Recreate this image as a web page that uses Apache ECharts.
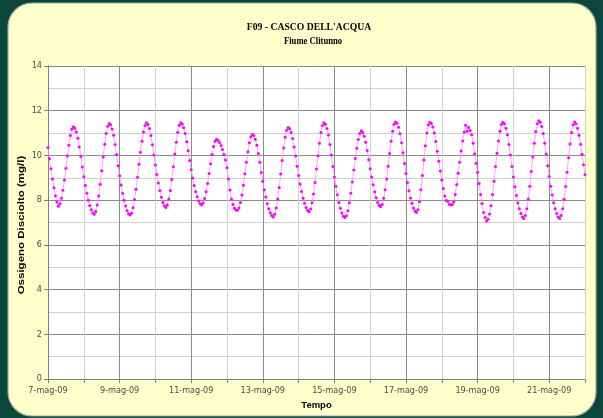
<!DOCTYPE html>
<html><head><meta charset="utf-8">
<script src="https://cdn.jsdelivr.net/npm/echarts@6/dist/echarts.min.js"></script>
<style>html,body{margin:0;padding:0;background:#0a4639;}#c{width:603px;height:418px;}</style>
</head><body><div id="c"></div>
<script>
const titolo = "F09 - CASCO DELL'ACQUA";
const sottotitolo = "Fiume Clitunno";
const nomeAsseY = "Ossigeno Disciolto (mg/l)";
const nomeAsseX = "Tempo";
// one label per day, starting 7-mag-09 00:00 (x = hours since start)
const giorni = ['7-mag-09','8-mag-09','9-mag-09','10-mag-09','11-mag-09','12-mag-09','13-mag-09','14-mag-09',
  '15-mag-09','16-mag-09','17-mag-09','18-mag-09','19-mag-09','20-mag-09','21-mag-09','22-mag-09'];
const yTicks = [0,2,4,6,8,10,12,14];
// hourly dissolved oxygen (mg/l)
const ossigeno = [
 10.35,9.85,9.40,8.95,8.55,8.20,7.92,7.73,
 7.84,8.09,8.44,8.90,9.43,9.97,10.46,10.89,11.17,11.28,
 11.22,11.05,10.77,10.38,9.95,9.48,9.05,8.66,8.31,8.00,7.76,7.57,7.43,7.37,
 7.49,7.78,8.18,8.71,9.32,9.93,10.50,10.98,11.31,11.43,
 11.37,11.18,10.90,10.49,10.04,9.54,9.09,8.68,8.31,7.99,7.74,7.54,7.39,7.33,
 7.41,7.66,8.03,8.49,9.02,9.60,10.14,10.63,11.05,11.34,11.46,
 11.38,11.20,10.89,10.48,10.02,9.57,9.15,8.77,8.43,8.13,7.90,7.75,7.67,
 7.78,8.05,8.43,8.92,9.49,10.06,10.59,11.04,11.35,11.46,
 11.41,11.24,10.98,10.61,10.21,9.77,9.36,8.99,8.66,8.37,8.15,7.96,7.84,7.78,
 7.87,8.07,8.37,8.75,9.19,9.63,10.04,10.40,10.63,10.72,
 10.68,10.58,10.44,10.26,10.05,9.80,9.45,8.95,8.45,8.05,7.80,7.64,7.56,7.55,
 7.65,7.89,8.23,8.67,9.18,9.69,10.16,10.57,10.84,10.94,
 10.89,10.72,10.46,10.09,9.69,9.24,8.84,8.47,8.14,7.84,7.62,7.44,7.31,7.25,
 7.37,7.65,8.05,8.57,9.17,9.77,10.33,10.81,11.13,11.25,
 11.19,11.02,10.76,10.38,9.97,9.52,9.10,8.72,8.39,8.08,7.86,7.67,7.54,7.48,
 7.60,7.88,8.28,8.79,9.39,9.99,10.55,11.02,11.34,11.46,
 11.40,11.21,10.91,10.49,10.02,9.51,9.04,8.62,8.24,7.90,7.64,7.43,7.28,7.22,
 7.30,7.53,7.88,8.31,8.81,9.35,9.86,10.32,10.71,10.98,11.10,
 11.03,10.86,10.59,10.22,9.81,9.40,9.03,8.69,8.38,8.11,7.90,7.77,7.70,
 7.81,8.08,8.46,8.95,9.52,10.09,10.63,11.08,11.39,11.50,
 11.44,11.26,10.97,10.57,10.12,9.64,9.19,8.79,8.42,8.10,7.86,7.65,7.51,7.45,
 7.57,7.93,8.46,9.10,9.79,10.43,11.00,11.36,11.48,
 11.43,11.27,11.00,10.62,10.19,9.74,9.30,8.90,8.52,8.18,7.98,7.95,7.82,7.78,7.80,7.92,
 8.25,8.70,9.20,9.70,10.20,10.65,11.05,11.35,11.08,11.25,11.12,10.92,
 10.55,10.08,9.65,9.25,8.75,8.25,7.85,7.45,7.22,7.07,7.15,7.38,7.75,8.25,8.85,9.50,10.10,10.65,11.08,11.38,11.48,
 11.42,11.22,10.92,10.49,10.02,9.50,9.03,8.60,8.21,7.87,7.61,7.40,7.25,7.18,
 7.31,7.62,8.05,8.62,9.28,9.93,10.55,11.07,11.42,11.55,
 11.48,11.29,10.98,10.55,10.06,9.54,9.06,8.62,8.23,7.88,7.62,7.40,7.25,7.18,
 7.31,7.61,8.04,8.61,9.25,9.90,10.51,11.03,11.37,11.50,
 11.42,11.22,10.90,10.50,10.05,9.58,9.15,8.72
];

const chart = echarts.init(document.getElementById('c'), null, {renderer:'canvas'});
const narrow = '"Liberation Sans Narrow","Arial Narrow","DejaVu Sans Condensed","Liberation Sans",sans-serif';
const gridDark = '#8a8a8a', gridLight = '#d0d0d0';
chart.setOption({
  animation: false,
  backgroundColor: '#0a4639',
  graphic: [
    {type:'rect', z:-10, shape:{x:8, y:3, width:588, height:413, r:24},
     style:{fill:'#ffffcc', stroke:'#9ea89e', lineWidth:1.2}},
    {type:'text', x:309, y:27.5, scaleX:0.88,
     style:{text:titolo, fontFamily:'"Liberation Serif",serif', fontWeight:'bold', fontSize:11, fill:'#000', align:'center', verticalAlign:'middle'}},
    {type:'text', x:313, y:41.5, scaleX:0.82,
     style:{text:sottotitolo, fontFamily:'"Liberation Serif",serif', fontWeight:'bold', fontSize:10.5, fill:'#000', align:'center', verticalAlign:'middle'}},
    {type:'text', x:22, y:225, rotation:Math.PI/2, scaleY:0.75,
     style:{text:nomeAsseY, fontFamily:'"Liberation Sans",sans-serif', fontWeight:'bold', fontSize:11.5, fill:'#000', align:'center', verticalAlign:'middle'}}
  ],
  grid: {left:48, top:66, width:537, height:313, show:true, backgroundColor:'#ffffff', borderWidth:0, containLabel:false, outerBoundsMode:'none'},
  xAxis: {
    type:'value', min:0, max:360, interval:24,
    axisLine:{show:true, onZero:false, lineStyle:{color:'#808080', width:1}},
    axisTick:{show:true, length:4, lineStyle:{color:'#808080'}},
    axisLabel:{margin:7, fontSize:9, color:'#4a4a4a', fontFamily:narrow,
      formatter: v => (v % 48 === 0 && v < 360) ? giorni[v/24] : ''},
    splitLine:{show:true, lineStyle:{color:[gridDark, gridLight], width:1}},
    name:nomeAsseX, nameLocation:'middle', nameGap:21,
    nameTextStyle:{fontWeight:'bold', fontSize:9.5, color:'#000', fontFamily:'"Liberation Sans",sans-serif'}
  },
  yAxis: [
    {type:'value', min:0, max:14, interval:1, position:'left',
     axisLine:{show:true, lineStyle:{color:'#808080'}},
     axisTick:{show:false}, axisLabel:{show:false},
     splitLine:{show:true, lineStyle:{color:[gridDark, gridLight], width:1}}},
    {type:'value', min:0, max:14, interval:2, position:'left', offset:0,
     axisLine:{show:true, lineStyle:{color:'#808080'}},
     axisTick:{show:true, length:4, lineStyle:{color:'#808080'}},
     axisLabel:{margin:6, fontSize:9, color:'#4a4a4a', fontFamily:narrow,
       formatter: v => yTicks.includes(v) ? String(v) : ''},
     splitLine:{show:false}}
  ],
  series: [{
    type:'line', yAxisIndex:0, clip:true,
    data: ossigeno.map((v, i) => [i, v]),
    symbol:'circle', symbolSize:3, showSymbol:true,
    itemStyle:{color:'#ff00ff', borderWidth:0},
    lineStyle:{color:'#ff88ff', width:1, opacity:0.8}
  }]
});
</script></body></html>
